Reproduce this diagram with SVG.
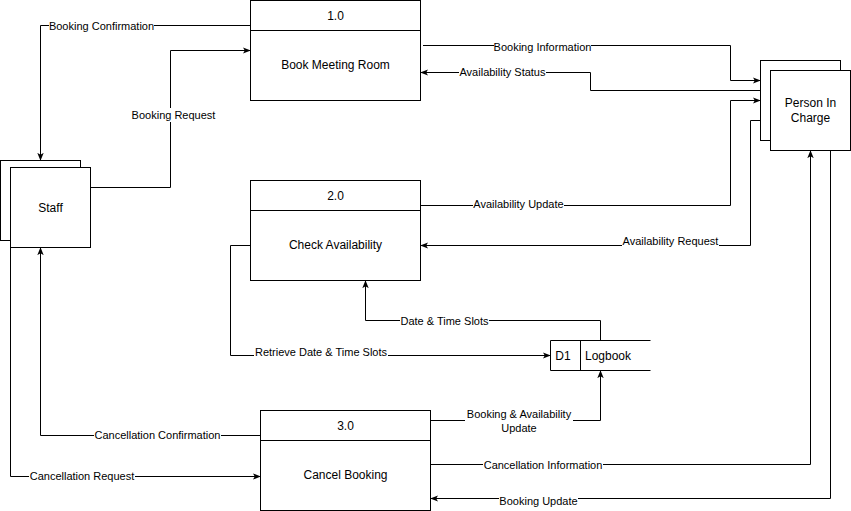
<svg xmlns="http://www.w3.org/2000/svg" width="851" height="511" viewBox="0 0 851 511">
<defs>
<marker id="arr" viewBox="0 0 10 8" refX="9" refY="4" markerWidth="8" markerHeight="7" markerUnits="userSpaceOnUse" orient="auto">
<path d="M0,0 L10,4 L0,8 L2.5,4 Z" fill="#000"/>
</marker>
<style>
.box{fill:#fff;stroke:#000;stroke-width:1}
.ln{fill:none;stroke:#000;stroke-width:1}
.c{stroke:#000;stroke-width:1;fill:none}
.a{marker-end:url(#arr)}
.nt{font-family:"Liberation Sans",Arial,Helvetica,sans-serif;font-size:12px;fill:#000;text-anchor:middle;dominant-baseline:central}
.et{font-family:"Liberation Sans",Arial,Helvetica,sans-serif;font-size:11px;fill:#000;text-anchor:middle;dominant-baseline:central}
.bg{fill:#fff}
</style>
</defs>
<rect width="851" height="511" fill="#fff"/>

<g id="connectors">
<!-- Booking Confirmation -->
<path class="c a" d="M250.5,25.5 H40.5 V160"/>
<!-- Booking Request -->
<path class="c a" d="M90.5,187.5 H170.5 V50.5 H250"/>
<!-- Booking Information -->
<path class="c a" d="M423,45.5 H730.5 V80.5 H760"/>
<!-- Availability Status -->
<path class="c a" d="M760,90.5 H590.5 V72.5 H421"/>
<!-- Availability Update -->
<path class="c a" d="M420.5,205.5 H730.5 V100.5 H760"/>
<!-- Availability Request -->
<path class="c a" d="M760,120.5 H750.5 V245.5 H421"/>
<!-- Retrieve Date & Time Slots -->
<path class="c a" d="M250.5,245.5 H230.5 V355.5 H550"/>
<!-- Date & Time Slots -->
<path class="c a" d="M600.5,340.5 V320.5 H365.5 V281"/>
<!-- Booking & Availability Update -->
<path class="c a" d="M430.5,420.5 H600.5 V371"/>
<!-- Cancellation Confirmation -->
<path class="c a" d="M260.5,435.5 H40.5 V248"/>
<!-- Cancellation Request -->
<path class="c a" d="M10.5,247.5 V476.5 H260"/>
<!-- Cancellation Information -->
<path class="c a" d="M430.5,464.5 H810.5 V151"/>
<!-- Booking Update -->
<path class="c a" d="M830.5,150.5 V498.5 H431"/>

<g id="edge-labels">
<rect class="bg" x="49" y="19" width="105" height="13"/>
<text class="et" x="101.5" y="25.5">Booking Confirmation</text>
<rect class="bg" x="131" y="108" width="85" height="14"/>
<text class="et" x="173.5" y="115">Booking Request</text>
<rect class="bg" x="494" y="40" width="97" height="13"/>
<text class="et" x="542.5" y="46.5">Booking Information</text>
<rect class="bg" x="459" y="66" width="87" height="13"/>
<text class="et" x="502.5" y="72">Availability Status</text>
<rect class="bg" x="473" y="198" width="91" height="13"/>
<text class="et" x="518.5" y="204">Availability Update</text>
<rect class="bg" x="622" y="235" width="97" height="13"/>
<text class="et" x="670.5" y="241">Availability Request</text>
<rect class="bg" x="254" y="346" width="134" height="12"/>
<text class="et" x="321" y="352">Retrieve Date &amp; Time Slots</text>
<rect class="bg" x="400" y="315" width="89" height="13"/>
<text class="et" x="444.5" y="321">Date &amp; Time Slots</text>
<rect class="bg" x="465" y="407" width="108" height="28"/>
<text class="et" x="519" y="414">Booking &amp; Availability</text>
<text class="et" x="519" y="428">Update</text>
<rect class="bg" x="94" y="429" width="127" height="13"/>
<text class="et" x="157.5" y="435">Cancellation Confirmation</text>
<rect class="bg" x="29" y="470" width="106" height="13"/>
<text class="et" x="82" y="476">Cancellation Request</text>
<rect class="bg" x="483" y="459" width="120" height="13"/>
<text class="et" x="543" y="465">Cancellation Information</text>
<rect class="bg" x="499" y="495" width="79" height="13"/>
<text class="et" x="538.5" y="501">Booking Update</text>
</g>
</g>

<g id="staff">
<rect class="box" x="0.5" y="160.5" width="80" height="80"/>
<rect class="box" x="10.5" y="167.5" width="80" height="80"/>
<text class="nt" x="50.5" y="207.5">Staff</text>
</g>

<g id="p1">
<rect class="box" x="250.5" y="0.5" width="170" height="100"/>
<line class="ln" x1="250.5" y1="30.5" x2="420.5" y2="30.5"/>
<text class="nt" x="335.5" y="15.5">1.0</text>
<text class="nt" x="335.5" y="65">Book Meeting Room</text>
</g>

<g id="p2">
<rect class="box" x="250.5" y="180.5" width="170" height="100"/>
<line class="ln" x1="250.5" y1="210.5" x2="420.5" y2="210.5"/>
<text class="nt" x="335.5" y="195.5">2.0</text>
<text class="nt" x="335.5" y="245">Check Availability</text>
</g>

<g id="p3">
<rect class="box" x="260.5" y="410.5" width="170" height="100"/>
<line class="ln" x1="260.5" y1="440.5" x2="430.5" y2="440.5"/>
<text class="nt" x="345.5" y="425.5">3.0</text>
<text class="nt" x="345.5" y="475">Cancel Booking</text>
</g>

<g id="pic">
<rect class="box" x="760.5" y="60.5" width="80" height="80"/>
<rect class="box" x="770.5" y="70.5" width="80" height="80"/>
<text class="nt" x="810.5" y="103">Person In</text>
<text class="nt" x="810.5" y="118">Charge</text>
</g>

<g id="d1">
<rect x="550.5" y="340.5" width="100" height="30" fill="#fff"/>
<path class="ln" d="M650.5,340.5 H550.5 V370.5 H650.5 M580.5,340.5 V370.5"/>
<text class="nt" x="563" y="355.5">D1</text>
<text class="nt" x="585" y="355.5" style="text-anchor:start">Logbook</text>
</g>
</svg>
